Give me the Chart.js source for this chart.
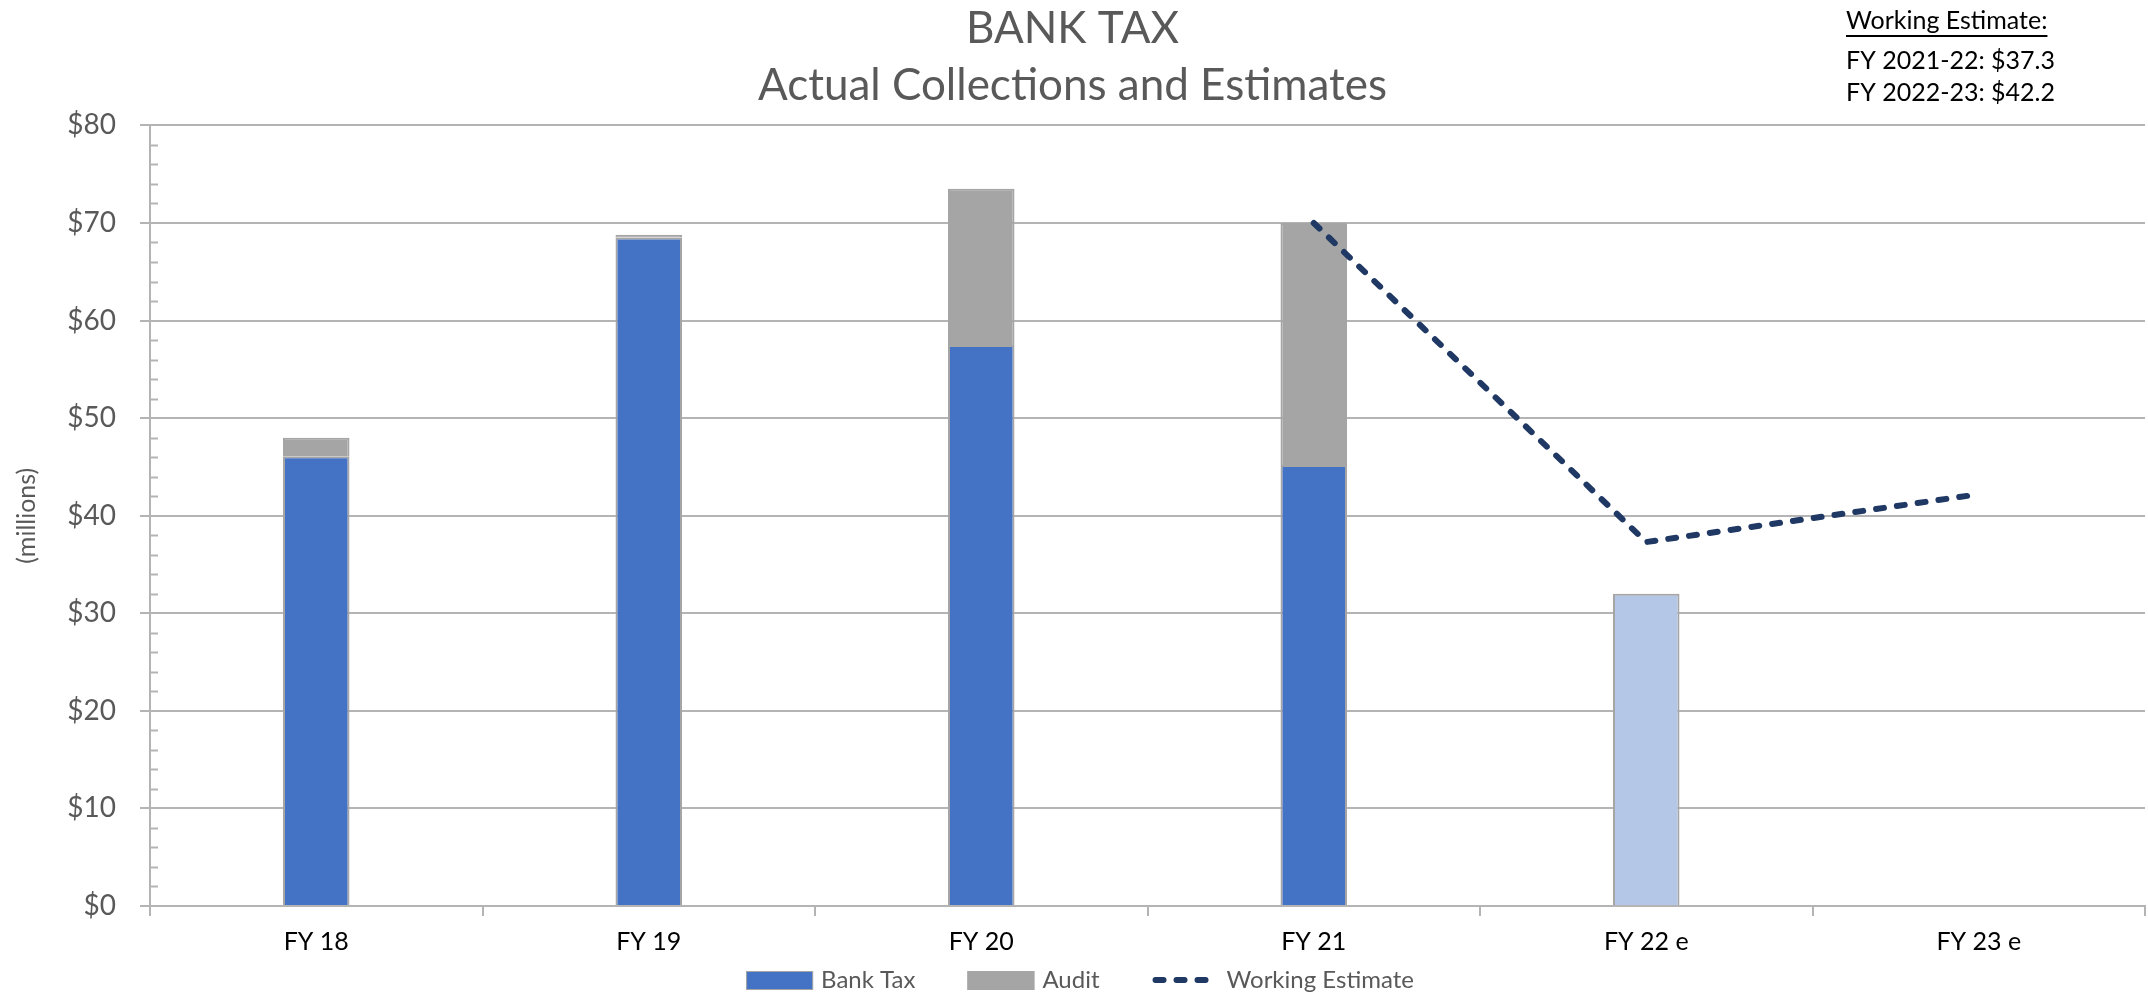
<!DOCTYPE html>
<html>
<head>
<meta charset="utf-8">
<script src="https://cdn.jsdelivr.net/npm/chart.js@4/dist/chart.umd.min.js"></script>
<style>
  html, body { margin: 0; padding: 0; background: #fff; }
  #wrap { width: 2148px; height: 994px; position: relative; }
</style>
</head>
<body>
<div id="wrap"><canvas id="bank-tax-chart" width="2148" height="994"></canvas></div>
<script>
// Fiscal years on the x axis
const years = ['FY 18', 'FY 19', 'FY 20', 'FY 21', 'FY 22 e', 'FY 23 e'];
// Collections, $ millions
const bankTax = [46.1, 68.5, 57.5, 45.2, 32.0, null];
const audit = [1.9, 0.3, 16.0, 24.8, null, null];
const workingEstimate = [null, null, null, 70.0, 37.3, 42.2];
// y axis ticks
const yTicks = [0, 10, 20, 30, 40, 50, 60, 70, 80];
// note box in the top right corner
const noteTitle = 'Working Estimate:';
const noteLines = ['FY 2021-22: $37.3', 'FY 2022-23: $42.2'];

const FONT = 'Lato, "Open Sans", sans-serif';
const GRID = '#B4B4B4';
const BLUE = '#4472C4';
const GREY = '#A5A5A5';
const NAVY = '#203864';

// estimate year gets the lighter fill
const bankTaxColors = years.map(y => y.endsWith(' e') ? '#B4C7E7' : BLUE);

// small inward ticks between the labelled ones on the y axis
const minorTicks = {
    id: 'minorTicks',
    afterDraw(chart) {
        const y = chart.scales.y;
        const ctx = chart.ctx;
        const left = chart.chartArea.left;
        ctx.save();
        ctx.strokeStyle = GRID;
        ctx.lineWidth = 2;
        for (let v = yTicks[0]; v <= yTicks[yTicks.length - 1]; v += 2) {
            if (yTicks.includes(v)) continue;
            const py = Math.round(y.getPixelForValue(v)) + 0.5;
            ctx.beginPath();
            ctx.moveTo(left, py);
            ctx.lineTo(left + 8, py);
            ctx.stroke();
        }
        ctx.restore();
    }
};

// the working estimate note
const estimateNote = {
    id: 'estimateNote',
    afterDraw(chart) {
        const ctx = chart.ctx;
        ctx.save();
        ctx.font = '25px ' + FONT;
        ctx.fillStyle = '#000';
        ctx.textBaseline = 'middle';
        ctx.textAlign = 'left';
        const x = 1846;
        ctx.fillText(noteTitle, x, 21);
        const w = ctx.measureText(noteTitle).width;
        ctx.fillRect(x, 35, w, 2);
        noteLines.forEach((line, i) => ctx.fillText(line, x, 61 + i * 32));
        ctx.restore();
    }
};

// legend row under the axis, wider item spacing than the built-in one
const bottomLegend = {
    id: 'bottomLegend',
    afterDraw(chart) {
        const ctx = chart.ctx;
        const sets = [0, 1, 2].map(i => chart.data.datasets[i]);
        const keyW = 67, keyGap = 8, itemGap = 52, cy = 980;
        ctx.save();
        ctx.font = '24px ' + FONT;
        ctx.textBaseline = 'middle';
        const widths = sets.map(ds => keyW + keyGap + ctx.measureText(ds.label).width);
        const total = widths.reduce((a, b) => a + b, 0) + itemGap * (sets.length - 1);
        let x = 1080 - total / 2;
        sets.forEach((ds, i) => {
            if (ds.type === 'line') {
                ctx.strokeStyle = ds.borderColor;
                ctx.lineWidth = ds.borderWidth;
                ctx.lineCap = 'round';
                ctx.setLineDash(ds.borderDash);
                ctx.beginPath();
                ctx.moveTo(x + 4, cy);
                ctx.lineTo(x + keyW, cy);
                ctx.stroke();
                ctx.setLineDash([]);
            } else {
                ctx.fillStyle = i === 0 ? BLUE : GREY;
                ctx.fillRect(x, cy - 9, keyW, 19);
                ctx.strokeStyle = GREY;
                ctx.lineWidth = 1;
                ctx.strokeRect(x + 0.5, cy - 8.5, keyW - 1, 18);
            }
            ctx.fillStyle = '#595959';
            ctx.fillText(ds.label, x + keyW + keyGap, cy);
            x += widths[i] + itemGap;
        });
        ctx.restore();
    }
};

const ctx = document.getElementById('bank-tax-chart').getContext('2d');
const chart = new Chart(ctx, {
    data: {
        labels: years,
        datasets: [{
            type: 'bar',
            label: 'Bank Tax',
            data: bankTax,
            backgroundColor: bankTaxColors,
            borderColor: GREY,
            borderWidth: 2,
            stack: 'collections',
            order: 2
        }, {
            type: 'bar',
            label: 'Audit',
            data: audit,
            backgroundColor: GREY,
            borderColor: GREY,
            borderWidth: 2,
            stack: 'collections',
            order: 2
        }, {
            type: 'line',
            label: 'Working Estimate',
            data: workingEstimate,
            borderColor: NAVY,
            borderWidth: 6,
            borderDash: [8, 13],
            borderCapStyle: 'round',
            pointRadius: 0,
            tension: 0,
            fill: false,
            stack: 'estimate',
            order: 1
        }]
    },
    options: {
        responsive: false,
        animation: false,
        layout: { padding: { left: 0, right: 3, top: 0, bottom: 36 } },
        datasets: {
            bar: { categoryPercentage: 1, barPercentage: 0.2 }
        },
        scales: {
            x: {
                stacked: true,
                offset: true,
                afterFit(scale) { scale.height = 52; },
                grid: {
                    display: true,
                    offset: true,
                    drawOnChartArea: false,
                    color: GRID,
                    lineWidth: 2,
                    tickLength: 10
                },
                border: { display: true, color: GRID, width: 2 },
                ticks: { color: '#000', font: { family: FONT, size: 25 }, padding: 11 }
            },
            y: {
                stacked: true,
                min: 0,
                max: 80,
                afterFit(scale) { scale.width = 150; },
                afterBuildTicks(scale) { scale.ticks = yTicks.map(v => ({ value: v })); },
                grid: { color: GRID, lineWidth: 2, tickLength: 10 },
                border: { display: true, color: GRID, width: 2 },
                ticks: {
                    color: '#595959',
                    font: { family: FONT, size: 28 },
                    padding: 24,
                    callback: v => '$' + v
                },
                title: {
                    display: true,
                    text: '(millions)',
                    color: '#595959',
                    font: { family: FONT, size: 25 },
                    padding: { top: 12, bottom: 0 }
                }
            }
        },
        plugins: {
            title: {
                display: true,
                text: ['BANK TAX', 'Actual Collections and Estimates'],
                color: '#595959',
                font: { family: FONT, size: 44, weight: 'normal', lineHeight: 1.3 },
                padding: { top: 0, bottom: 11 }
            },
            legend: { display: false },
            tooltip: { enabled: false }
        }
    },
    plugins: [minorTicks, estimateNote, bottomLegend]
});
</script>
</body>
</html>
